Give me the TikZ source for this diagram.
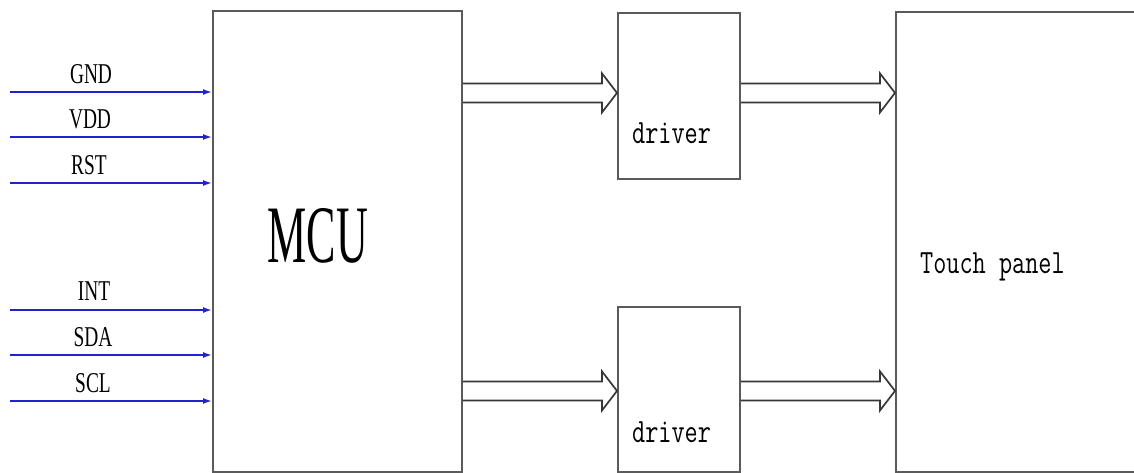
\documentclass[tikz,border=0pt]{standalone}
\usepackage{fontspec}
\setmainfont{Liberation Serif}
\newfontfamily\pinfont[FakeStretch=0.675]{Liberation Serif}
\newfontfamily\mcufont[FakeStretch=0.54]{Liberation Serif}
\newfontfamily\tagfont[FakeStretch=0.75]{Latin Modern Mono}
\usetikzlibrary{arrows.meta,calc}

\definecolor{boxgray}{RGB}{90,90,90}     % box outlines
\definecolor{busgray}{RGB}{55,55,55}     % hollow bus arrows
\definecolor{pinblue}{RGB}{35,35,205}    % input pins

% hollow bus arrow from #1 to #2 (same height)
\newcommand{\busarrow}[2]{%
  \draw[bus] let \p1=(#1), \p2=(#2) in
    (\x1,{\y1+9.5pt}) -- ({\x2-15pt},{\y1+9.5pt}) -- ({\x2-15pt},{\y1+19.5pt})
    -- (\x2,\y1) -- ({\x2-15pt},{\y1-19.5pt}) -- ({\x2-15pt},{\y1-9.5pt})
    -- (\x1,{\y1-9.5pt});}

\begin{document}
\begin{tikzpicture}[x=1pt,y=-1pt,
    box/.style={draw=boxgray, line width=1.8pt, inner sep=0pt, anchor=north west},
    pin/.style={draw=pinblue, line width=1.6pt, -{Latex[length=9pt,width=6pt]}},
    pin label/.style={font=\pinfont\fontsize{28.7}{30}\selectfont, anchor=base, inner sep=0pt},
    tag/.style={font=\tagfont\fontsize{34}{36}\selectfont, anchor=base west, inner sep=0pt},
    bus/.style={draw=busgray, line width=1.7pt, line join=miter}
]
\useasboundingbox[fill=white] (0,0) rectangle (1134,472);

% Blocks
\node[box, minimum width=249pt, minimum height=461pt] (mcu) at (212,10) {};
\node[box, minimum width=122pt, minimum height=166pt] (drv1) at (617,12) {};
\node[box, minimum width=122pt, minimum height=165pt] (drv2) at (617,306) {};
\node[box, minimum width=250pt, minimum height=460pt] (panel) at (895,11) {};

% Block texts
\node[font=\mcufont\fontsize{81.6}{84}\selectfont, anchor=base, inner sep=0pt] (mcutext) at (318,262) {MCU};
\node[tag] (drv1text) at (632,143) {driver};
\node[tag] (drv2text) at (632,442) {driver};
\node[tag] (paneltext) at (920,273) {Touch panel};

% Input pins
\coordinate (gnd) at (10,92);
\coordinate (vdd) at (10,137);
\coordinate (rst) at (10,183);
\coordinate (int) at (10,310);
\coordinate (sda) at (10,355);
\coordinate (scl) at (10,401);
\draw[pin] (gnd) -- (mcu.west |- gnd);
\draw[pin] (vdd) -- (mcu.west |- vdd);
\draw[pin] (rst) -- (mcu.west |- rst);
\draw[pin] (int) -- (mcu.west |- int);
\draw[pin] (sda) -- (mcu.west |- sda);
\draw[pin] (scl) -- (mcu.west |- scl);
\node[pin label] (gndlabel) at (91,83) {GND};
\node[pin label] (vddlabel) at (90,128) {VDD};
\node[pin label] (rstlabel) at (89,174) {RST};
\node[pin label] (intlabel) at (94,300) {INT};
\node[pin label] (sdalabel) at (93,346) {SDA};
\node[pin label] (scllabel) at (93,392) {SCL};

% Bus arrows
\coordinate (bus1) at ([yshift=3pt]drv1.west);
\coordinate (bus2) at ([yshift=-1.5pt]drv2.west);
\busarrow{mcu.east |- bus1}{bus1}
\busarrow{drv1.east |- bus1}{panel.west |- bus1}
\busarrow{mcu.east |- bus2}{bus2}
\busarrow{drv2.east |- bus2}{panel.west |- bus2}

\end{tikzpicture}
\end{document}
